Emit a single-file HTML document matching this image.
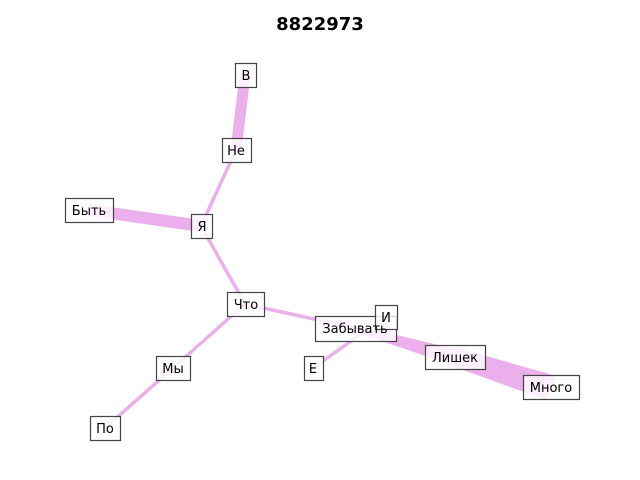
<!DOCTYPE html>
<html><head><meta charset="utf-8"><style>
html,body{margin:0;padding:0;background:#fff;width:640px;height:480px;overflow:hidden}
svg text{font-family:"DejaVu Sans","Liberation Sans",sans-serif;font-size:13px;fill:#000}
</style></head><body>
<svg width="640" height="480" viewBox="0 0 640 480" xmlns="http://www.w3.org/2000/svg">
<text x="320" y="30" text-anchor="middle" style="font-size:18px;font-weight:bold">8822973</text>
<g stroke="#ebb0eb" stroke-linecap="butt" fill="none">
<line x1="245" y1="75" x2="236" y2="150" stroke-width="11"/>
<line x1="236" y1="150" x2="201" y2="226" stroke-width="3.5"/>
<line x1="89" y1="210" x2="201" y2="226" stroke-width="12"/>
<line x1="201" y1="226" x2="245" y2="304" stroke-width="3.5"/>
<line x1="245" y1="304" x2="173" y2="368" stroke-width="3.5"/>
<line x1="173" y1="368" x2="105" y2="428" stroke-width="3.5"/>
<line x1="245" y1="304" x2="355" y2="328" stroke-width="3.5"/>
<line x1="313" y1="368" x2="385" y2="317" stroke-width="3.5"/>
</g>
<g fill="#ebb0eb">
<polygon points="355,325 455,349 455,366 355,332"/>
<polygon points="455,347 556,376 546,400 455,367"/>
</g>
<g fill="#fff" fill-opacity="0.8" stroke="#444" stroke-width="1.2">
<rect x="235.5" y="63.5" width="21" height="24"/>
<rect x="222.5" y="138.5" width="29" height="24"/>
<rect x="65.5" y="198.5" width="48" height="24"/>
<rect x="191.5" y="214.5" width="21" height="24"/>
<rect x="227.5" y="292.5" width="37" height="24"/>
<rect x="315.5" y="316.5" width="81" height="25"/>
<rect x="375.5" y="305.5" width="22" height="24"/>
<rect x="304.5" y="356.5" width="19" height="24"/>
<rect x="425.5" y="345.5" width="60" height="24"/>
<rect x="523.5" y="375.5" width="56" height="24"/>
<rect x="156.5" y="356.5" width="34" height="24"/>
<rect x="90.5" y="416.5" width="30" height="24"/>
</g>
<g text-anchor="middle">
<text x="246" y="80">В</text>
<text x="236" y="155">Не</text>
<text x="89" y="215">Быть</text>
<text x="202" y="231">Я</text>
<text x="246" y="309">Что</text>
<text x="355" y="333">Забывать</text>
<text x="386" y="322">И</text>
<text x="313" y="373">Е</text>
<text x="455" y="362">Лишек</text>
<text x="551" y="392">Много</text>
<text x="173" y="373">Мы</text>
<text x="105" y="433">По</text>
</g>
</svg>
</body></html>
